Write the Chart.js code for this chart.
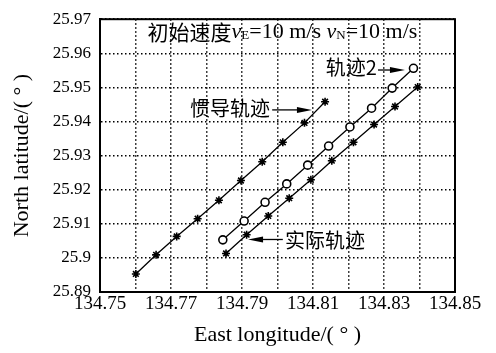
<!DOCTYPE html>
<html>
<head>
<meta charset="utf-8">
<script src="https://cdn.jsdelivr.net/npm/chart.js@4/dist/chart.umd.min.js"></script>
<style>
  html, body { margin: 0; padding: 0; background: #fff; }
</style>
</head>
<body>
<canvas id="trackChart" width="496" height="353"></canvas>
<script>
// 惯导轨迹
const inertialLon = [134.7601, 134.7658, 134.7716, 134.7775, 134.7835, 134.7897, 134.7957, 134.8015, 134.8076, 134.8134];
const inertialLat = [25.8953, 25.9009, 25.9063, 25.9115, 25.9169, 25.9227, 25.9282, 25.9339, 25.9396, 25.9458];
// 轨迹2
const track2Lon = [134.7846, 134.7906, 134.7965, 134.8026, 134.8085, 134.8144, 134.8204, 134.8265, 134.8323, 134.8383];
const track2Lat = [25.9053, 25.9108, 25.9163, 25.9217, 25.9272, 25.9328, 25.9384, 25.9439, 25.9498, 25.9556];
// 实际轨迹
const actualLon = [134.7855, 134.7913, 134.7974, 134.8033, 134.8094, 134.8153, 134.8214, 134.8272, 134.8331, 134.8395];
const actualLat = [25.9013, 25.9068, 25.9123, 25.9175, 25.9229, 25.9285, 25.9339, 25.9391, 25.9444, 25.9501];

const xTicks = [134.75, 134.76, 134.77, 134.78, 134.79, 134.80, 134.81, 134.82, 134.83, 134.84, 134.85];
const yTicks = [25.89, 25.90, 25.91, 25.92, 25.93, 25.94, 25.95, 25.96, 25.97];

const serif = "'Liberation Serif', 'Times New Roman', serif";
const cjk = "'Noto Sans CJK SC', sans-serif";

const toPoints = (xs, ys) => xs.map((v, i) => ({ x: v, y: ys[i] }));

const lineStyle = {
  showLine: true,
  borderColor: "#000",
  borderWidth: 1.3,
  pointBorderColor: "#000",
  pointBorderWidth: 1.6,
  pointRadius: 4,
};

// arrow with filled head, drawn at the "to" end
function arrow(ctx, x1, y, x2) {
  const dir = x2 > x1 ? 1 : -1;
  ctx.beginPath();
  ctx.moveTo(x1, y);
  ctx.lineTo(x2 - dir * 8, y);
  ctx.stroke();
  ctx.beginPath();
  ctx.moveTo(x2, y);
  ctx.lineTo(x2 - dir * 15, y - 3);
  ctx.lineTo(x2 - dir * 15, y + 3);
  ctx.closePath();
  ctx.fill();
}

const frameAndNotes = {
  id: "frameAndNotes",
  afterDraw(chart) {
    const { ctx, chartArea: a, scales: { x, y } } = chart;
    ctx.save();
    ctx.strokeStyle = "#000";
    ctx.fillStyle = "#000";
    ctx.lineWidth = 2;
    ctx.strokeRect(a.left, a.top, a.width, a.height);

    // title line: 初始速度 vE=10 m/s vN=10 m/s
    const parts = [
      ["初始速度", "21px " + cjk, 0],
      ["v", "italic 22px " + serif, 0],
      ["E", "13px " + serif, 4],
      ["=10 m/s ", "22px " + serif, 0],
      ["v", "italic 22px " + serif, 0],
      ["N", "13px " + serif, 4],
      ["=10 m/s", "22px " + serif, 0],
    ];
    let total = 0;
    parts.forEach(p => { ctx.font = p[1]; total += ctx.measureText(p[0]).width; });
    let tx = x.getPixelForValue(134.8014) - total / 2;
    const ty = y.getPixelForValue(25.9663);
    ctx.textBaseline = "middle";
    ctx.textAlign = "left";
    parts.forEach(p => {
      ctx.font = p[1];
      ctx.fillText(p[0], tx, ty + p[2]);
      tx += ctx.measureText(p[0]).width;
    });

    ctx.lineWidth = 1.3;
    ctx.font = "20px " + cjk;

    // 惯导轨迹 ->
    ctx.textAlign = "right";
    ctx.fillText("惯导轨迹", x.getPixelForValue(134.7979), y.getPixelForValue(25.9437));
    arrow(ctx, x.getPixelForValue(134.7985), y.getPixelForValue(25.9434), x.getPixelForValue(134.8097));

    // 轨迹2 ->
    ctx.fillText("轨迹2", x.getPixelForValue(134.8280), y.getPixelForValue(25.9560));
    arrow(ctx, x.getPixelForValue(134.8283), y.getPixelForValue(25.9551), x.getPixelForValue(134.8359));

    // <- 实际轨迹
    ctx.textAlign = "left";
    ctx.fillText("实际轨迹", x.getPixelForValue(134.8021), y.getPixelForValue(25.9052));
    arrow(ctx, x.getPixelForValue(134.8015), y.getPixelForValue(25.9054), x.getPixelForValue(134.7917));

    ctx.restore();
  },
};

const ctx = document.getElementById("trackChart").getContext("2d");
const trackChart = new Chart(ctx, {
  type: "scatter",
  data: {
    datasets: [
      {
        ...lineStyle,
        label: "惯导轨迹",
        data: toPoints(inertialLon, inertialLat),
        pointStyle: "star",
      },
      {
        ...lineStyle,
        label: "轨迹2",
        data: toPoints(track2Lon, track2Lat),
        pointStyle: "circle",
        pointBackgroundColor: "#fff",
      },
      {
        ...lineStyle,
        label: "实际轨迹",
        data: toPoints(actualLon, actualLat),
        pointStyle: "star",
      },
    ],
  },
  options: {
    responsive: false,
    animation: false,
    layout: { padding: { top: 12, right: 41, left: 0, bottom: 0 } },
    plugins: {
      legend: { display: false },
      tooltip: { enabled: false },
    },
    scales: {
      x: {
        type: "linear",
        min: 134.75,
        max: 134.85,
        afterBuildTicks: (scale) => { scale.ticks = xTicks.map(v => ({ value: v })); },
        afterFit: (scale) => { scale.height = 61; },
        grid: { color: "#000", lineWidth: 1.5, drawTicks: false },
        border: { color: "#000", width: 2, dash: [1.5, 2.5] },
        ticks: {
          color: "#000",
          font: { family: serif, size: 19 },
          padding: 1,
          autoSkip: false,
          maxRotation: 0,
          callback: (v, i) => (i % 2 === 0 ? v.toFixed(2) : ""),
        },
        title: {
          display: true,
          text: "East longitude/( ° )",
          color: "#000",
          font: { family: serif, size: 22, lineHeight: 1.2 },
          padding: { top: 0, bottom: 5 },
        },
      },
      y: {
        type: "linear",
        min: 25.89,
        max: 25.97,
        afterBuildTicks: (scale) => { scale.ticks = yTicks.map(v => ({ value: v })); },
        afterFit: (scale) => { scale.width = 100; },
        grid: { color: "#000", lineWidth: 1.5, drawTicks: false },
        border: { color: "#000", width: 2, dash: [1.5, 2.5] },
        ticks: {
          color: "#000",
          font: { family: serif, size: 17 },
          padding: 9,
          callback: (v) => String(Number(v.toFixed(2))),
        },
        title: {
          display: true,
          text: "North latitude/( ° )",
          color: "#000",
          font: { family: serif, size: 22, lineHeight: 1.2 },
          padding: { top: 9, bottom: 0 },
        },
      },
    },
  },
  plugins: [frameAndNotes],
});
</script>
</body>
</html>
